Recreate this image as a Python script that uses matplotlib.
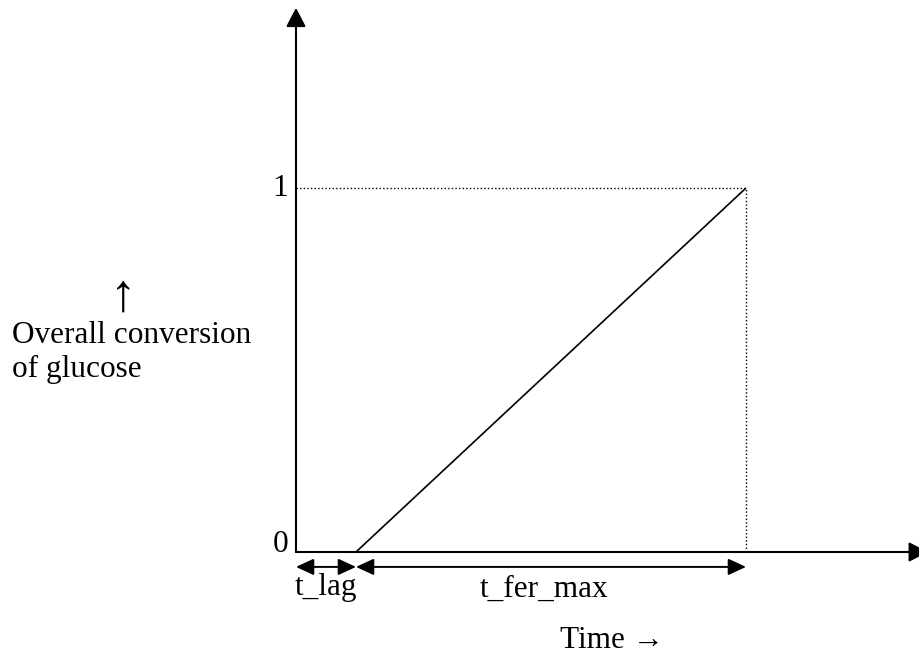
import matplotlib
matplotlib.use("Agg")
import matplotlib.pyplot as plt

plt.rcParams["font.family"] = ["Liberation Serif", "DejaVu Serif"]

# conceptual time units: lag phase then linear fermentation to full conversion
T_LAG = 1.0
T_FER_MAX = 6.5
time = [0.0, T_LAG, T_LAG + T_FER_MAX]
conversion = [0.0, 0.0, 1.0]
y_ticks = [0, 1]
y_tick_labels = ["0", "1"]

FS = 22.5

fig = plt.figure(figsize=(9.2, 6.55), dpi=100)
ax = fig.add_axes([0, 0, 1, 1])
ax.set_xlim(-4.933, 10.4)
ax.set_ylim(-0.283, 1.5165)
ax.axis("off")

t_end = time[-1]

# main curve
ax.plot(time, conversion, color="black", lw=1.2, solid_capstyle="butt")

# dotted guides to the end point
ax.plot([0, t_end], [1, 1], color="black", lw=1.0, ls=(0, (1, 1.6)))
ax.plot([t_end, t_end], [0, 1], color="black", lw=1.0, ls=(0, (1, 1.6)))

# axes with arrow heads
axis_arrow = dict(arrowstyle="-|>,head_length=1.15,head_width=0.6",
                  mutation_scale=10, color="black", lw=1.5,
                  shrinkA=0, shrinkB=0)
ax.annotate("", xy=(0, 1.495), xytext=(0, 0), arrowprops=axis_arrow,
            annotation_clip=False)
ax.annotate("", xy=(10.53, 0), xytext=(0, 0), arrowprops=axis_arrow,
            annotation_clip=False)

# tick labels
ax.text(-0.13, y_ticks[1], y_tick_labels[1], fontsize=FS, ha="right", va="center")
ax.text(-0.13, y_ticks[0], y_tick_labels[0], fontsize=FS, ha="right", va="baseline")

# interval arrows below the axis
span_arrow = dict(arrowstyle="<|-|>,head_length=1.08,head_width=0.5",
                  mutation_scale=10, color="black", lw=1.4,
                  shrinkA=0, shrinkB=0)
y_span = -0.041
ax.annotate("", xy=(T_LAG, y_span), xytext=(0, y_span), arrowprops=span_arrow,
            annotation_clip=False)
ax.annotate("", xy=(t_end, y_span), xytext=(T_LAG, y_span), arrowprops=span_arrow,
            annotation_clip=False)

ax.text(0.5, -0.118, "t_lag", fontsize=FS, ha="center", va="baseline")
ax.text(4.13, -0.123, "t_fer_max", fontsize=FS, ha="center", va="baseline")
ax.text(4.4, -0.264, "Time →", fontsize=FS, ha="left", va="baseline")

# y label
ax.text(-2.883, 0.698, "↑", fontsize=38, ha="center", va="center")
ax.text(-4.733, 0.574, "Overall conversion", fontsize=FS, ha="left", va="baseline")
ax.text(-4.733, 0.481, "of glucose", fontsize=FS, ha="left", va="baseline")

fig.savefig("out.png", dpi=100, facecolor="white")
